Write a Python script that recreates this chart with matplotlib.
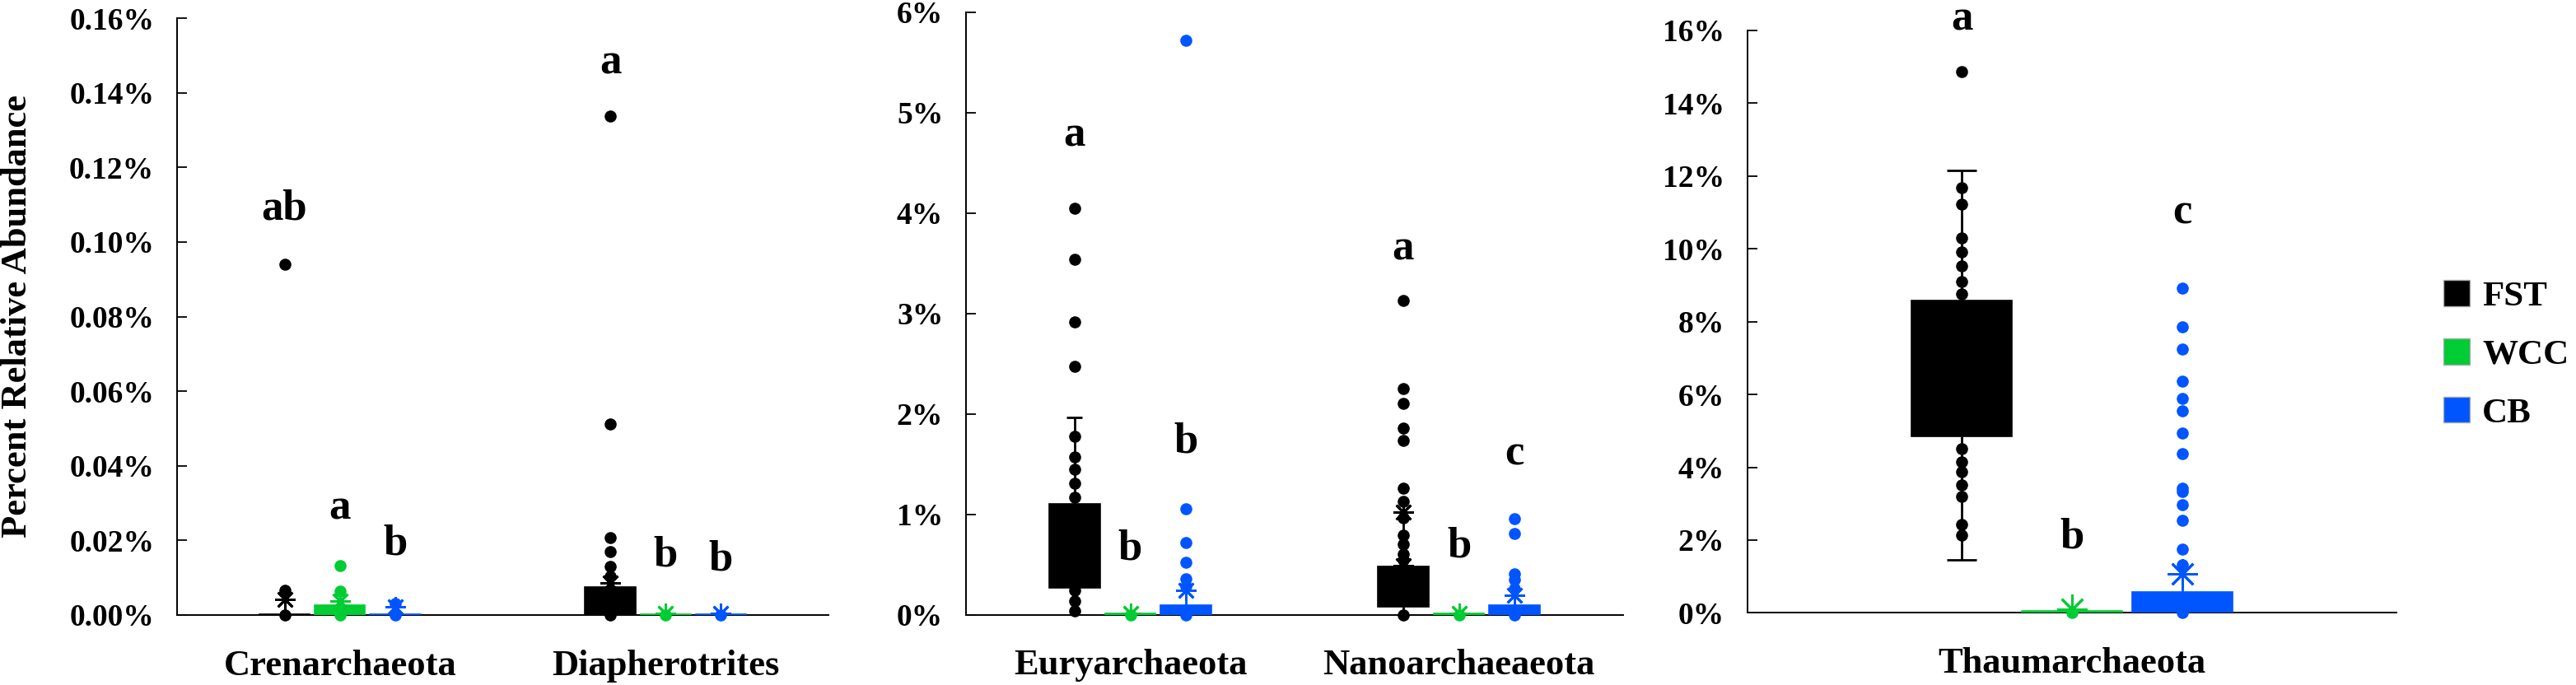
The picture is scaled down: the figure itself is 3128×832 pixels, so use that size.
import matplotlib
matplotlib.use('Agg')
import matplotlib.pyplot as plt
from matplotlib.patches import Patch
from matplotlib.ticker import FuncFormatter

plt.rcParams['font.family'] = ['Liberation Serif', 'DejaVu Serif']
plt.rcParams['font.weight'] = 'bold'

groups = ['FST', 'WCC', 'CB']
colors = ['#000000', '#00cc33', '#0055ff']

# panel 1 (values in percent)
cats_p1 = ['Crenarchaeota', 'Diapherotrites']
q1_p1 = [[0, 0, 0], [0, 0, 0]]
q3_p1 = [[0.0003, 0.0027, 0.0003], [0.0075, 0.0003, 0.0003]]
lo_p1 = [[0, 0, 0], [0, 0, 0]]
hi_p1 = [[0.0042, 0.0037, 0.0022], [0.0086, 0.0004, 0.0004]]
caps_p1 = [[[], [], []], [[], [], []]]
stars_p1 = [[[0.0042], [0.0037], [0.0022]], [[0.0086], [0.0004], [0.0004]]]
dots_p1 = [[[0, 0.0067, 0.094], [0, 0.0064, 0.0132], [0, 0.0031]],
           [[0, 0.0104, 0.013, 0.017, 0.0207, 0.0513, 0.1338], [0], [0]]]
let_p1 = [['ab', 'a', 'b'], ['a', 'b', 'b']]
lety_p1 = [[0.109, 0.0285, 0.019], [0.148, 0.016, 0.015]]

# panel 2
cats_p2 = ['Euryarchaeota', 'Nanoarchaeaeota']
q1_p2 = [[0.266, 0, 0], [0.08, 0, 0]]
q3_p2 = [[1.106, 0.01, 0.094], [0.477, 0.01, 0.094]]
lo_p2 = [[0.04, 0, 0], [0, 0, 0]]
hi_p2 = [[1.967, 0.015, 0.245], [1.02, 0.015, 0.19]]
caps_p2 = [[[1.967], [], []], [[], [], []]]
stars_p2 = [[[], [0.015], [0.245]], [[1.02, 0.49], [0.015], [0.19]]]
dots_p2 = [[[0.04, 0.135, 0.245, 1.17, 1.31, 1.45, 1.57, 1.776, 2.47, 2.92, 3.54, 4.05],
            [0],
            [0, 0.285, 0.354, 0.52, 0.72, 1.05, 5.72]],
           [[0, 0.545, 0.60, 0.70, 0.79, 0.966, 1.13, 1.257, 1.735, 1.86, 2.10, 2.25, 3.13],
            [0],
            [0, 0.26, 0.35, 0.41, 0.805, 0.956]]]
let_p2 = [['a', 'b', 'b'], ['a', 'b', 'c']]
lety_p2 = [[4.77, 0.655, 1.72], [3.64, 0.68, 1.60]]

# panel 3
cats_p3 = ['Thaumarchaeota']
q1_p3 = [[4.86, 0, 0]]
q3_p3 = [[8.58, 0.05, 0.575]]
lo_p3 = [[1.45, 0, 0]]
hi_p3 = [[12.16, 0.1, 1.08]]
caps_p3 = [[[1.45, 12.16], [], []]]
stars_p3 = [[[], [0.1], [1.08]]]
dots_p3 = [[[2.14, 2.44, 3.2, 3.52, 3.88, 4.14, 4.5, 8.77, 9.1, 9.52, 9.92, 10.3,
             11.22, 11.68, 14.88],
            [0],
            [0, 1.31, 1.76, 2.55, 2.97, 3.34, 3.42, 4.38, 4.94, 5.56, 5.89, 6.37,
             7.24, 7.86, 8.92]]]
let_p3 = [['a', 'b', 'c']]
lety_p3 = [[16.3, 2.08, 11.0]]

offset = 0.17
width = 0.155


def draw_panel(ax, cats, q1, q3, lo, hi, caps, stars, dots, lets, lety,
               ymax, ystep, fmt, star_ms):
    for i in range(len(cats)):
        for j in range(3):
            x = i + (j - 1) * offset
            c = colors[j]
            # whiskers
            ax.vlines(x, lo[i][j], q1[i][j], color=c, lw=2, zorder=2)
            ax.vlines(x, q3[i][j], hi[i][j], color=c, lw=2, zorder=2)
            for v in caps[i][j]:
                ax.hlines(v, x - width * 0.15, x + width * 0.15, color=c, lw=2, zorder=2)
            for v in stars[i][j]:
                ax.plot(x, v, marker=(8, 2, 0), ms=star_ms, mew=2, color=c, zorder=2)
            ax.plot([x] * len(dots[i][j]), dots[i][j], 'o', ms=10.5, color=c,
                    mew=0, clip_on=False, zorder=3)
            ax.bar(x, q3[i][j] - q1[i][j], width, bottom=q1[i][j], color=c,
                   edgecolor=c, lw=1.2, zorder=4)
            ax.text(x, lety[i][j], lets[i][j], ha='center', va='center',
                    fontsize=38, fontweight='bold', clip_on=False)
    ax.set_xlim(-0.5, len(cats) - 0.5)
    ax.set_ylim(0, ymax)
    ticks = [k * ystep for k in range(int(round(ymax / ystep)) + 1)]
    ax.set_yticks(ticks)
    ax.yaxis.set_major_formatter(FuncFormatter(lambda v, p: fmt.format(v)))
    ax.set_xticks(range(len(cats)))
    ax.set_xticklabels(cats, fontsize=32, fontweight='bold')
    ax.tick_params(axis='x', length=0, pad=30)
    ax.tick_params(axis='y', direction='in', length=8.5, width=1.3,
                   labelsize=27, pad=20)
    for s in ['top', 'right']:
        ax.spines[s].set_visible(False)
    for s in ['left', 'bottom']:
        ax.spines[s].set_linewidth(1.4)


W, H = 3128, 832
fig = plt.figure(figsize=(W / 100, H / 100), dpi=100)

ax1 = fig.add_axes([215 / W, 1 - 747 / H, (1006 - 215) / W, (747 - 22) / H])
ax2 = fig.add_axes([1173 / W, 1 - 746.5 / H, (1971 - 1173) / W, (746.5 - 15) / H])
ax3 = fig.add_axes([2122 / W, 1 - 744.4 / H, (2910 - 2122) / W, (744.4 - 37) / H])

draw_panel(ax1, cats_p1, q1_p1, q3_p1, lo_p1, hi_p1, caps_p1, stars_p1, dots_p1,
           let_p1, lety_p1, 0.16, 0.02, '{:.2f}%', 18)
draw_panel(ax2, cats_p2, q1_p2, q3_p2, lo_p2, hi_p2, caps_p2, stars_p2, dots_p2,
           let_p2, lety_p2, 6, 1, '{:.0f}%', 18)
draw_panel(ax3, cats_p3, q1_p3, q3_p3, lo_p3, hi_p3, caps_p3, stars_p3, dots_p3,
           let_p3, lety_p3, 16, 2, '{:.0f}%', 26)

fig.text(21 / W, 1 - 384 / H, 'Percent Relative Abundance', rotation=90,
         ha='center', va='center', fontsize=32, fontweight='bold')

handles = [Patch(facecolor=c, edgecolor='#aaaaaa', lw=1) for c in colors]
fig.legend(handles, groups, loc='center left', bbox_to_anchor=(2967 / W, 1 - 431 / H),
           frameon=False, handlelength=0.75, handleheight=0.75,
           handletextpad=0.35, labelspacing=0.72, borderpad=0, borderaxespad=0,
           prop={'weight': 'bold', 'size': 31})

fig.savefig('out.png', dpi=100)
